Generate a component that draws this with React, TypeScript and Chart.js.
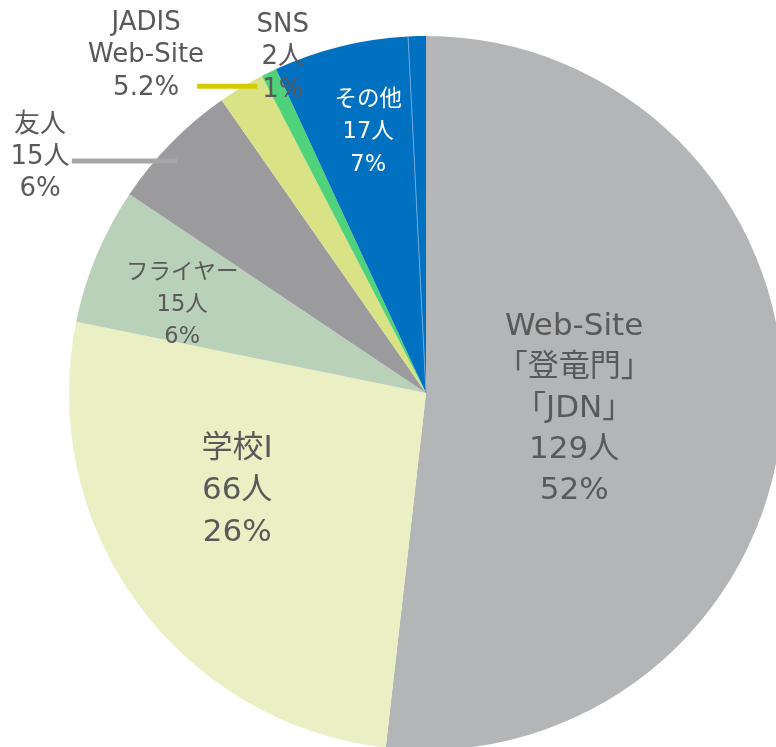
import React, { useEffect, useRef } from 'react';
import { Chart, registerables } from 'chart.js';

Chart.register(...registerables);

// ---- data ----
const categories = ['Web-Site「登竜門」「JDN」', '学校I', 'フライヤー', '友人', 'JADIS Web-Site', 'SNS', 'その他', '無回答'];
const shares = [51.8, 26.4, 6.2, 5.9, 2.1, 0.7, 6.1, 0.8];
const nameLines = [['Web-Site', '「登竜門」', '「JDN」'], ['学校I'], ['フライヤー'], ['友人'], ['JADIS', 'Web-Site'], ['SNS'], ['その他'], []];
const countLabels = ['129人', '66人', '15人', '15人', '', '2人', '17人', ''];
const percentLabels = ['52%', '26%', '6%', '6%', '5.2%', '1%', '7%', ''];
const sliceColors = ['#b4b5b7', '#ebf0c4', '#b9d1b8', '#9b9b9d', '#d9e285', '#50d27b', '#0070c0', '#0070c0'];

// ---- label layout (relative to pie centre, in units of radius) ----
type Layout = { dx: number; dy: number; size: number; lh: number; color: string; leader?: { x1: number; x2: number; y: number; color: string } };
const layouts: (Layout | null)[] = [
  { dx: 0.415, dy: 0.046, size: 31, lh: 41, color: '#595959' },
  { dx: -0.529, dy: 0.275, size: 31, lh: 42, color: '#595959' },
  { dx: -0.683, dy: -0.246, size: 22.5, lh: 32, color: '#595959' },
  { dx: -1.081, dy: -0.661, size: 26, lh: 32, color: '#595959', leader: { x1: -0.992, x2: -0.697, y: -0.650, color: '#a6a6a6' } },
  { dx: -0.784, dy: -0.945, size: 26, lh: 32.5, color: '#595959', leader: { x1: -0.641, x2: -0.473, y: -0.859, color: '#d4cc00' } },
  { dx: -0.401, dy: -0.940, size: 26, lh: 32.5, color: '#595959' },
  { dx: -0.162, dy: -0.730, size: 22.5, lh: 32.5, color: '#ffffff' },
  null,
];

const FONT = '"DejaVu Sans", "Noto Sans CJK JP", sans-serif';

const labelPlugin = {
  id: 'pieLabels',
  afterDatasetsDraw(chart: any) {
    const ctx = chart.ctx as CanvasRenderingContext2D;
    const meta = chart.getDatasetMeta(0);
    const first = meta.data[0] as any;
    const cx = first.x;
    const cy = first.y;
    const R = first.outerRadius;
    ctx.save();
    // thin separator line before last slice
    const last = meta.data[meta.data.length - 1] as any;
    ctx.strokeStyle = '#6aa6dd';
    ctx.lineWidth = 1;
    ctx.beginPath();
    ctx.moveTo(cx, cy);
    ctx.lineTo(cx + Math.cos(last.startAngle) * R, cy + Math.sin(last.startAngle) * R);
    ctx.stroke();

    layouts.forEach((lay, i) => {
      if (!lay) return;
      if (lay.leader) {
        ctx.strokeStyle = lay.leader.color;
        ctx.lineWidth = 5;
        ctx.lineCap = 'butt';
        ctx.beginPath();
        ctx.moveTo(cx + lay.leader.x1 * R, cy + lay.leader.y * R);
        ctx.lineTo(cx + lay.leader.x2 * R, cy + lay.leader.y * R);
        ctx.stroke();
      }
      const lines = [...nameLines[i], countLabels[i], percentLabels[i]].filter((s) => s !== '');
      const x = cx + lay.dx * R;
      const y = cy + lay.dy * R;
      ctx.font = `${lay.size}px ${FONT}`;
      ctx.fillStyle = lay.color;
      ctx.textAlign = 'center';
      ctx.textBaseline = 'middle';
      lines.forEach((t, k) => {
        ctx.fillText(t, x, y + (k - (lines.length - 1) / 2) * lay.lh);
      });
    });
    ctx.restore();
  },
};

export default function App() {
  const ref = useRef<HTMLCanvasElement>(null);
  useEffect(() => {
    if (!ref.current) return;
    const chart = new Chart(ref.current, {
      type: 'pie',
      data: {
        labels: categories,
        datasets: [
          {
            data: shares,
            backgroundColor: sliceColors,
            borderWidth: 0,
          },
        ],
      },
      options: {
        animation: false,
        responsive: false,
        devicePixelRatio: 1,
        radius: 357,
        layout: { padding: 0 },
        plugins: {
          legend: { display: false },
          tooltip: { enabled: false },
        },
      },
      plugins: [labelPlugin],
    });
    return () => chart.destroy();
  }, []);
  return (
    <div style={{ position: 'fixed', left: 0, top: 0, width: 776, height: 747, overflow: 'hidden', background: '#ffffff' }}>
      <canvas ref={ref} width={852} height={786} style={{ display: 'block', width: 852, height: 786 }} />
    </div>
  );
}
